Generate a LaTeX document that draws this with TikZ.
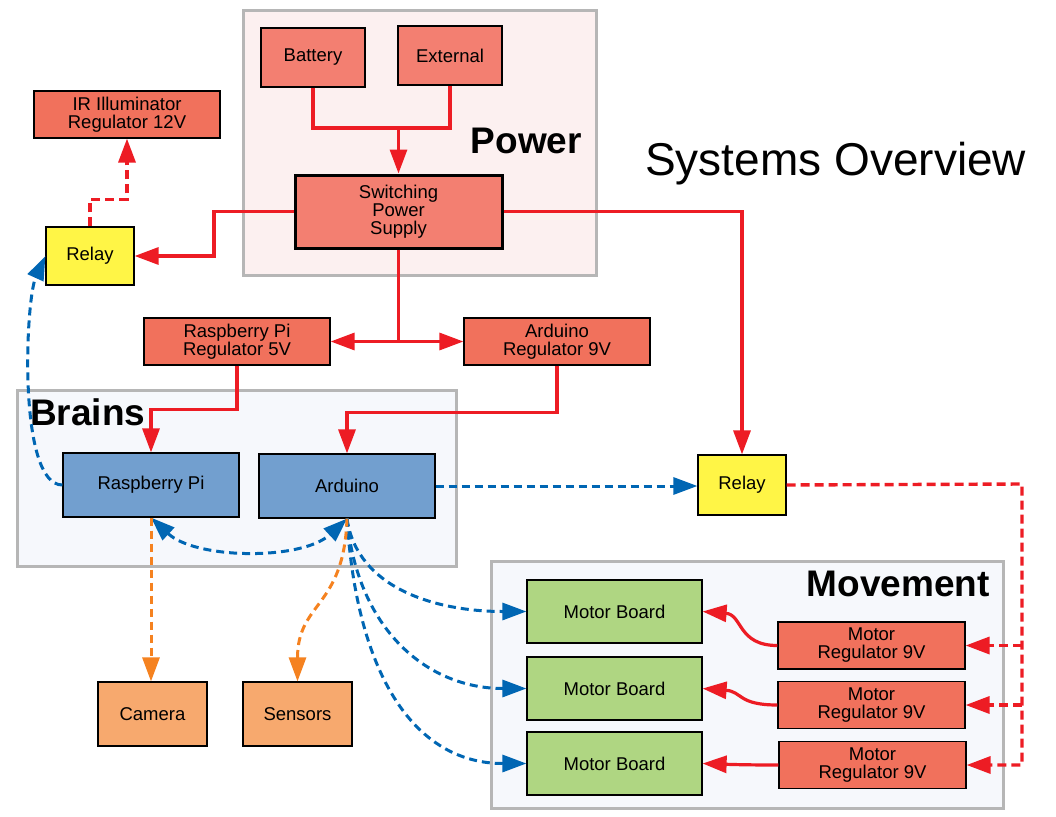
\documentclass[tikz,border=0pt]{standalone}
\usepackage{fontspec}
\setmainfont{Liberation Sans}
\usetikzlibrary{arrows.meta}
\definecolor{powerbg}{RGB}{252,240,240}
\definecolor{groupbg}{RGB}{246,248,252}
\definecolor{groupline}{RGB}{182,182,182}
\definecolor{salmonA}{RGB}{243,127,113}
\definecolor{salmonB}{RGB}{241,113,92}
\definecolor{relayyel}{RGB}{255,245,70}
\definecolor{brainblue}{RGB}{114,159,207}
\definecolor{boardgreen}{RGB}{175,214,130}
\definecolor{periorange}{RGB}{247,169,110}
\definecolor{redline}{RGB}{237,28,36}
\definecolor{blueline}{RGB}{0,102,179}
\definecolor{orangeline}{RGB}{245,130,32}
\begin{document}
\begin{tikzpicture}[x=1pt,y=-1pt,
  box/.style={draw=black, line width=1.2pt, inner sep=0pt, align=center,
    font=\fontsize{18.5}{18}\selectfont},
  group/.style={draw=groupline, line width=3pt},
  title/.style={inner sep=0pt, font=\fontsize{37}{40}\selectfont\bfseries},
  tip/.style={-{Triangle[length=24pt,width=17pt]}},
  pline/.style={draw=redline, line width=3.2pt},
  rdash/.style={draw=redline, line width=3.4pt, dash pattern=on 9pt off 5pt},
  bdash/.style={draw=blueline, line width=3pt, dash pattern=on 8pt off 5pt},
  odash/.style={draw=orangeline, line width=3pt, dash pattern=on 8pt off 5pt}]
\useasboundingbox (0,0) rectangle (1056,816);
% groups
\draw[group, fill=powerbg] (243,11) rectangle (596,275);
\draw[group, fill=groupbg] (17,390) rectangle (456,566);
\draw[group, fill=groupbg] (491,561) rectangle (1003,808);
% titles
\node[title, anchor=base east] (tpower) at (582,153) {Power};
\node[title, anchor=base west] (tbrains) at (30,425) {Brains};
\node[title, anchor=base east] (tmove) at (990,596) {Movement};
\node[inner sep=0pt, anchor=base west, font=\fontsize{46}{50}\selectfont] (tsys) at (645,175) {Systems Overview};
% nodes
\node[box, fill=salmonA, minimum width=104, minimum height=59] (bat) at (313,57.5) {Battery};
\node[box, fill=salmonA, minimum width=104, minimum height=59] (ext) at (450,55.5) {External};
\node[box, fill=salmonA, minimum width=207, minimum height=73, line width=3pt] (sw) at (398.5,211.5) {Switching\\Power\\Supply};
\node[box, fill=salmonB, minimum width=186, minimum height=47] (ir) at (127,114.5) {IR Illuminator\\Regulator 12V};
\node[box, fill=relayyel, minimum width=88, minimum height=58] (relay1) at (90,256) {Relay};
\node[box, fill=salmonB, minimum width=186, minimum height=47] (rpireg) at (237,341.5) {Raspberry Pi\\Regulator 5V};
\node[box, fill=salmonB, minimum width=186, minimum height=47] (ardreg) at (557,341.5) {Arduino\\Regulator 9V};
\node[box, fill=brainblue, minimum width=176, minimum height=64] (rpi) at (151,485) {Raspberry Pi};
\node[box, fill=brainblue, minimum width=176, minimum height=64] (ard) at (347,486) {Arduino};
\node[box, fill=relayyel, minimum width=88, minimum height=60] (relay2) at (742,485) {Relay};
\node[box, fill=boardgreen, minimum width=175, minimum height=63] (mb1) at (614.5,611.5) {Motor Board};
\node[box, fill=boardgreen, minimum width=175, minimum height=63] (mb2) at (614.5,688.5) {Motor Board};
\node[box, fill=boardgreen, minimum width=175, minimum height=63] (mb3) at (614.5,763.5) {Motor Board};
\node[box, fill=salmonB, minimum width=187, minimum height=47] (reg1) at (871.5,645.5) {Motor\\Regulator 9V};
\node[box, fill=salmonB, minimum width=187, minimum height=47] (reg2) at (871.5,705) {Motor\\Regulator 9V};
\node[box, fill=salmonB, minimum width=187, minimum height=47] (reg3) at (872.5,765) {Motor\\Regulator 9V};
\node[box, fill=periorange, minimum width=109, minimum height=64] (cam) at (152.5,714) {Camera};
\node[box, fill=periorange, minimum width=109, minimum height=64] (sens) at (297.5,714) {Sensors};
% helper coordinates
\coordinate (j1) at (398.5,128);
\coordinate (k1) at (214,256);
\coordinate (rx) at (1022,484);
% power connectors
\draw[pline] (bat.south) -- (bat.south |- j1) -- (ext.south |- j1) -- (ext.south);
\draw[pline, tip] (j1) -- (sw.north);
\draw[pline, tip] (sw.west) -| (k1) -- (relay1.east);
\draw[pline, tip] (sw.east) -| (relay2.north);
\draw[pline] (sw.south) -- (sw.south |- rpireg.east);
\draw[pline, tip] (sw.south |- rpireg.east) -- (rpireg.east);
\draw[pline, tip] (sw.south |- ardreg.west) -- (ardreg.west);
\draw[pline, tip] (rpireg.south) -- ++(0,44) -| (rpi.north);
\draw[pline, tip] (ardreg.south) -- ++(0,47) -| (ard.north);
\draw[rdash, tip] (relay1.north) -- ++(0,-27) -| (ir.south);
% relay 2 to motor regulators
\draw[rdash, tip] (relay2.east) -- (rx) |- (reg3.east);
\draw[rdash, tip] (rx |- reg1.east) -- (reg1.east);
\draw[rdash, tip] (rx |- reg2.east) -- (reg2.east);
% regulators to boards
\draw[pline, tip] (reg1.west) .. controls +(-40,0) and +(40,3) .. (mb1.east);
\draw[pline, tip] (reg2.west) .. controls +(-40,0) and +(40,3) .. (mb2.east);
\draw[pline, tip] (reg3.west) .. controls +(-30,0) and +(30,1) .. (mb3.east);
% blue data links
\draw[bdash, tip] (rpi.west) .. controls +(-45,0) and +(-20,44) .. (relay1.west);
\draw[bdash, {Triangle[length=24pt,width=17pt]}-{Triangle[length=24pt,width=17pt]}] (rpi.south) .. controls +(45,42) and +(-45,42) .. (ard.south);
\draw[bdash, tip] (ard.east) -- (ard.east -| relay2.west);
\draw[bdash, tip] (ard.south) .. controls +(10,70) and +(-90,0) .. (mb1.west);
\draw[bdash, tip] (ard.south) .. controls +(10,110) and +(-100,0) .. (mb2.west);
\draw[bdash, tip] (ard.south) .. controls +(10,160) and +(-110,0) .. (mb3.west);
% orange links
\draw[odash, tip] (rpi.south) -- (rpi.south |- cam.north);
\draw[odash, tip] (ard.south) .. controls +(-3,90) and +(0,-80) .. (sens.north);
\end{tikzpicture}
\end{document}
